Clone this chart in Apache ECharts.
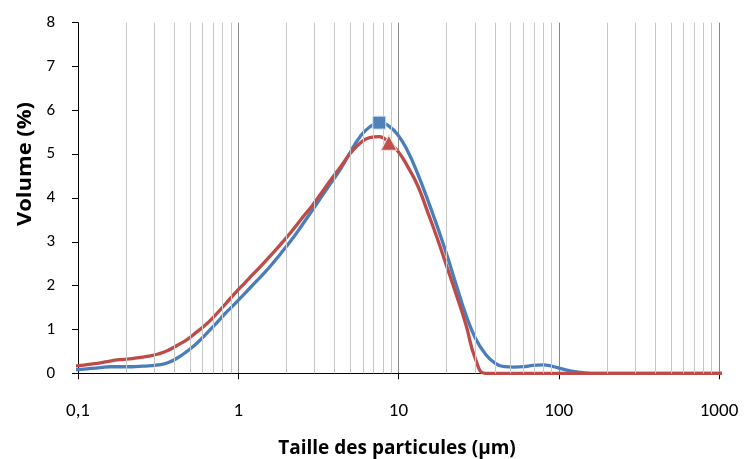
<!DOCTYPE html>
<html>
<head>
<meta charset="utf-8">
<script src="https://cdn.jsdelivr.net/npm/echarts@6/dist/echarts.min.js"></script>
<style>
html,body{margin:0;padding:0;background:#fff;}
#chart{width:746px;height:459px;}
</style>
</head>
<body>
<div id="chart"></div>
<script>
// Particle size classes (µm)
var sizes = [0.0912,0.1047,0.1202,0.1380,0.1585,0.1820,0.2089,0.2399,0.2754,0.3162,0.3631,0.4169,0.4786,0.5495,0.6310,0.7244,0.8318,0.9550,1.0965,1.2589,1.4454,1.6596,1.9055,2.1878,2.5119,2.8840,3.3113,3.8019,4.3652,5.0119,5.7544,6.6069,7.5858,8.7096,10.000,11.482,13.183,15.136,17.378,19.953,22.909,26.303,30.200,34.674,39.811,45.709,52.481,60.256,69.183,79.433,91.201,104.71,120.23,138.04,158.49,181.97,208.93,239.88,275.42,316.23,363.08,416.87,478.63,549.54,630.96,724.44,831.76,954.99,1096.5];
// Volume (%) — blue series
var blueVol = [0.08,0.09,0.11,0.13,0.15,0.15,0.15,0.16,0.17,0.19,0.24,0.35,0.50,0.68,0.90,1.13,1.37,1.59,1.82,2.05,2.28,2.53,2.80,3.08,3.39,3.71,4.03,4.35,4.67,5.05,5.40,5.62,5.72,5.64,5.42,5.05,4.55,3.98,3.37,2.72,2.02,1.34,0.80,0.45,0.24,0.15,0.14,0.15,0.18,0.19,0.16,0.10,0.05,0.02,0,0,0,0,0,0,0,0,0,0,0,0,0,0,0];
// Volume (%) — red series
var redVol = [0.16,0.18,0.21,0.24,0.28,0.31,0.33,0.36,0.39,0.44,0.52,0.64,0.77,0.94,1.12,1.34,1.58,1.83,2.06,2.29,2.52,2.76,3.01,3.27,3.55,3.82,4.12,4.43,4.72,5.02,5.25,5.38,5.40,5.26,5.05,4.70,4.28,3.70,3.10,2.45,1.80,1.12,0.33,0,0,0,0,0,0,0,0,0,0,0,0,0,0,0,0,0,0,0,0,0,0,0,0,0,0];
// marker indices
var blueMarkIdx = 32;
var redMarkIdx = 33;
// minor vertical gridline values
var minorGrid = [0.2,0.3,0.4,0.5,0.6,0.7,0.8,0.9,2,3,4,5,6,7,8,9,20,30,40,50,60,70,80,90,200,300,400,500,600,700,800,900];
var xTitle = 'Taille des particules (µm)';
var yTitle = 'Volume (%)';

var FONT = 'Carlito, Lato, sans-serif';
var TFONT = '"Open Sans", Lato, sans-serif';
var blueC = '#4A7EBB', redC = '#BE4B48';

function pairs(xs, ys){ return xs.map(function(x,i){ return [x, ys[i]]; }); }

var chart = echarts.init(document.getElementById('chart'), null, {renderer:'canvas'});
chart.setOption({
  animation:false,
  backgroundColor:'#fff',
  grid:{left:78, right:27, top:22.7, bottom:85.7, containLabel:false},
  xAxis:{
    type:'log', logBase:10, min:0.1, max:1000, splitNumber:4,
    axisLine:{show:true, onZero:false, lineStyle:{color:'#000', width:1}},
    axisTick:{show:true, inside:false, length:6, lineStyle:{color:'#000'}},
    axisLabel:{color:'#000', fontFamily:FONT, fontSize:19, margin:28,
      formatter:function(v){ return String(v).replace('.', ','); }},
    splitLine:{show:true, lineStyle:{color:'#888', width:1}},
    minorTick:{show:false}, minorSplitLine:{show:false}
  },
  yAxis:{
    type:'value', min:0, max:8, interval:1,
    axisLine:{show:true, lineStyle:{color:'#000', width:1}},
    axisTick:{show:true, inside:false, length:6, lineStyle:{color:'#000'}},
    axisLabel:{color:'#000', fontFamily:FONT, fontSize:17, margin:23},
    splitLine:{show:false}
  },
  graphic:[
    {type:'text', x:397, y:449, style:{text:xTitle, fill:'#000', font:'bold 19px '+TFONT, textAlign:'center', textVerticalAlign:'middle'}},
    {type:'text', x:25, y:164, rotation:Math.PI/2, scaleX:1.1, style:{text:yTitle, fill:'#000', font:'bold 20px '+TFONT, textAlign:'center', textVerticalAlign:'middle'}}
  ],
  series:[
    {type:'line', data:[], silent:true, z:1,
     markLine:{silent:true, symbol:['none','none'], label:{show:false},
       lineStyle:{color:'#c8c8c8', width:1, type:'solid'},
       data: minorGrid.map(function(v){ return {xAxis:v}; })}},
    {name:'blue', type:'line', data:pairs(sizes, blueVol), showSymbol:false, smooth:0.5,
     lineStyle:{color:blueC, width:3.3}, itemStyle:{color:blueC}, z:3},
    {name:'red', type:'line', data:pairs(sizes, redVol), showSymbol:false, smooth:0.5,
     lineStyle:{color:redC, width:3.3}, itemStyle:{color:redC}, z:4},
    {type:'scatter', data:[[sizes[blueMarkIdx], blueVol[blueMarkIdx]]], symbol:'rect', symbolSize:13,
     itemStyle:{color:'#4F81BD', borderColor:'#dce6f2', borderWidth:1, opacity:1}, z:5},
    {type:'scatter', data:[[sizes[redMarkIdx], redVol[redMarkIdx]]], symbol:'triangle', symbolSize:[16,15],
     itemStyle:{color:'#C0504D', borderColor:'#f2dcdb', borderWidth:1, opacity:1}, z:5}
  ]
});
</script>
</body>
</html>
